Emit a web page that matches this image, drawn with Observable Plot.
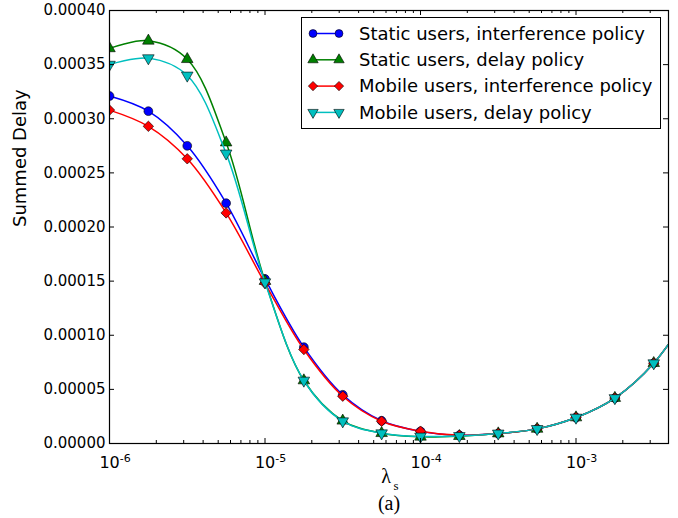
<!DOCTYPE html>
<html><head><meta charset="utf-8">
<script src="https://cdn.jsdelivr.net/npm/d3@7"></script>
<script src="https://cdn.jsdelivr.net/npm/@observablehq/plot@0.6"></script>
<style>body{margin:0;background:#fff}</style>
</head><body><div id="chart"></div>
<script>
// ---- data ----
const lambdaS = [1e-6, 1.778e-6, 3.162e-6, 5.623e-6, 1e-5, 1.778e-5, 3.162e-5, 5.623e-5, 1e-4, 1.778e-4, 3.162e-4, 5.623e-4, 1e-3, 1.778e-3, 3.162e-3, 5.623e-3];
const seriesNames = ["Static users, interference policy", "Static users, delay policy", "Mobile users, interference policy", "Mobile users, delay policy"];
const staticInterference = [0.000321, 0.000307, 0.000275, 0.000222, 0.000152, 0.0000890, 0.0000450, 0.0000210, 0.0000112, 0.0000076, 0.0000092, 0.0000135, 0.0000240, 0.0000420, 0.0000742, 0.000125];
const staticDelay        = [0.000365, 0.000372, 0.000355, 0.000278, 0.000150, 0.0000582, 0.0000210, 0.0000095, 0.0000062, 0.0000068, 0.0000092, 0.0000135, 0.0000240, 0.0000420, 0.0000742, 0.000125];
const mobileInterference = [0.000308, 0.000293, 0.000263, 0.000213, 0.000148, 0.0000868, 0.0000437, 0.0000206, 0.0000114, 0.0000076, 0.0000092, 0.0000135, 0.0000240, 0.0000420, 0.0000742, 0.000125];
const mobileDelay        = [0.000350, 0.000356, 0.000340, 0.000268, 0.000149, 0.0000582, 0.0000206, 0.0000095, 0.0000065, 0.0000070, 0.0000093, 0.0000135, 0.0000240, 0.0000420, 0.0000742, 0.000125];
const seriesValues = [staticInterference, staticDelay, mobileInterference, mobileDelay];
const yTicks = [0, 0.00005, 0.0001, 0.00015, 0.0002, 0.00025, 0.0003, 0.00035, 0.0004];
const xTickValues = [1e-6, 1e-5, 1e-4, 1e-3];
const xTickBase = "10";
const xTickExponents = ["-6", "-5", "-4", "-3"];
const xLabel = "λ";
const xLabelSub = "s";
const yLabel = "Summed Delay";
const caption = "(a)";

// ---- styles ----
const colors = ["#0000ff", "#008000", "#ff0000", "#00bfbf"];
const symbols = ["circle", "triangle", "diamond2", "triangle"];
const rotations = [0, 0, 0, 180];
const radii = [4.4, 4.3, 4.7, 4.3];

const W = 678, H = 518, mT = 10, mB = 75, mL = 109, mR = 10;
const frameH = H - mT - mB, frameW = W - mL - mR;
const xDomain = [1e-6, Math.pow(10, -6 + frameW / 155.5)];

const xMinor = [];
for (let e = -6; e <= -3; e++) for (let m = 2; m <= 9; m++) {
  const v = m * Math.pow(10, e);
  if (v < xDomain[1]) xMinor.push(v);
}

const marks = [];
seriesValues.forEach((vals, i) => {
  const rows = lambdaS.map((x, k) => ({x, y: vals[k]}));
  marks.push(Plot.line(rows, {x: "x", y: "y", stroke: colors[i], strokeWidth: 1.5, curve: "catmull-rom", clip: true}));
  marks.push(Plot.dot(rows, {x: "x", y: "y", symbol: () => symbols[i], r: radii[i], rotate: rotations[i], fill: colors[i], stroke: "black", strokeWidth: 0.6, clip: true}));
});

const tickStyle = {stroke: "black", strokeWidth: 1};
marks.push(
  Plot.tickX(xTickValues, {x: d => d, insetTop: frameH - 5, ...tickStyle}),
  Plot.tickX(xTickValues, {x: d => d, insetBottom: frameH - 5, ...tickStyle}),
  Plot.tickX(xMinor, {x: d => d, insetTop: frameH - 3, ...tickStyle}),
  Plot.tickX(xMinor, {x: d => d, insetBottom: frameH - 3, ...tickStyle}),
  Plot.tickY(yTicks, {y: d => d, insetRight: frameW - 5, ...tickStyle}),
  Plot.tickY(yTicks, {y: d => d, insetLeft: frameW - 5, ...tickStyle}),
  Plot.frame({stroke: "black", strokeWidth: 1.2}),
  Plot.axisY({ticks: yTicks, tickFormat: d => d.toFixed(5), tickSize: 0, tickPadding: 4, fontSize: 15, label: null}),
  Plot.axisX({ticks: xTickValues, tickFormat: d => xTickBase + "^" + xTickExponents[xTickValues.indexOf(d)], tickSize: 0, tickPadding: 13, fontSize: 16, label: null}),
  Plot.text([yLabel], {text: d => d, frameAnchor: "left", dx: -89, rotate: -90, fontSize: 18}),
  Plot.text([xLabel], {text: d => d, frameAnchor: "bottom", dx: -3, dy: 39, fontSize: 20, fontFamily: "Liberation Serif"}),
  Plot.text([xLabelSub], {text: d => d, frameAnchor: "bottom", dx: 7, dy: 46, fontSize: 13, fontFamily: "Liberation Serif"}),
  Plot.text([caption], {text: d => d, frameAnchor: "bottom", dx: 0, dy: 66, fontSize: 20, fontFamily: "Liberation Serif"})
);

const svg = Plot.plot({
  width: W, height: H,
  marginTop: mT, marginBottom: mB, marginLeft: mL, marginRight: mR,
  style: {fontFamily: "DejaVu Sans", color: "black", background: "white"},
  x: {type: "log", domain: xDomain, axis: null},
  y: {domain: [0, 0.0004], axis: null},
  marks
});

// x tick labels: render exponent as a real superscript tspan
d3.select(svg).selectAll("text").each(function () {
  const t = this.textContent;
  const m = /^10\^(-\d)$/.exec(t);
  if (!m) return;
  const sel = d3.select(this);
  sel.text(null);
  sel.append("tspan").text(xTickBase);
  sel.append("tspan").attr("dy", "-0.55em").attr("font-size", 11).text(m[1]);
  sel.attr("dx", "0.35em");
});

// ---- legend (inside the plot, top right) ----
const g = d3.select(svg).append("g").attr("text-anchor", "start");
g.append("rect").attr("x", 301.5).attr("y", 17.5).attr("width", 359).attr("height", 111)
  .attr("fill", "white").attr("stroke", "black").attr("stroke-width", 1);
const symMap = {circle: d3.symbolCircle, triangle: d3.symbolTriangle, diamond2: d3.symbolDiamond2};
seriesNames.forEach((name, i) => {
  const y = 33.5 + i * 26.3;
  g.append("line").attr("x1", 313).attr("x2", 339).attr("y1", y).attr("y2", y)
    .attr("stroke", colors[i]).attr("stroke-width", 1.5);
  [313, 339].forEach(x => {
    g.append("path").attr("d", d3.symbol(symMap[symbols[i]], Math.PI * radii[i] * radii[i] * 0.8)())
      .attr("transform", `translate(${x},${y}) rotate(${rotations[i]})`)
      .attr("fill", colors[i]).attr("stroke", "black").attr("stroke-width", 0.6);
  });
  g.append("text").attr("x", 359).attr("y", y).attr("dy", "0.35em").attr("text-anchor", "start")
    .attr("font-family", "DejaVu Sans").attr("font-size", 18).attr("fill", "black").text(name);
});

document.getElementById("chart").appendChild(svg);
</script>
</body></html>
